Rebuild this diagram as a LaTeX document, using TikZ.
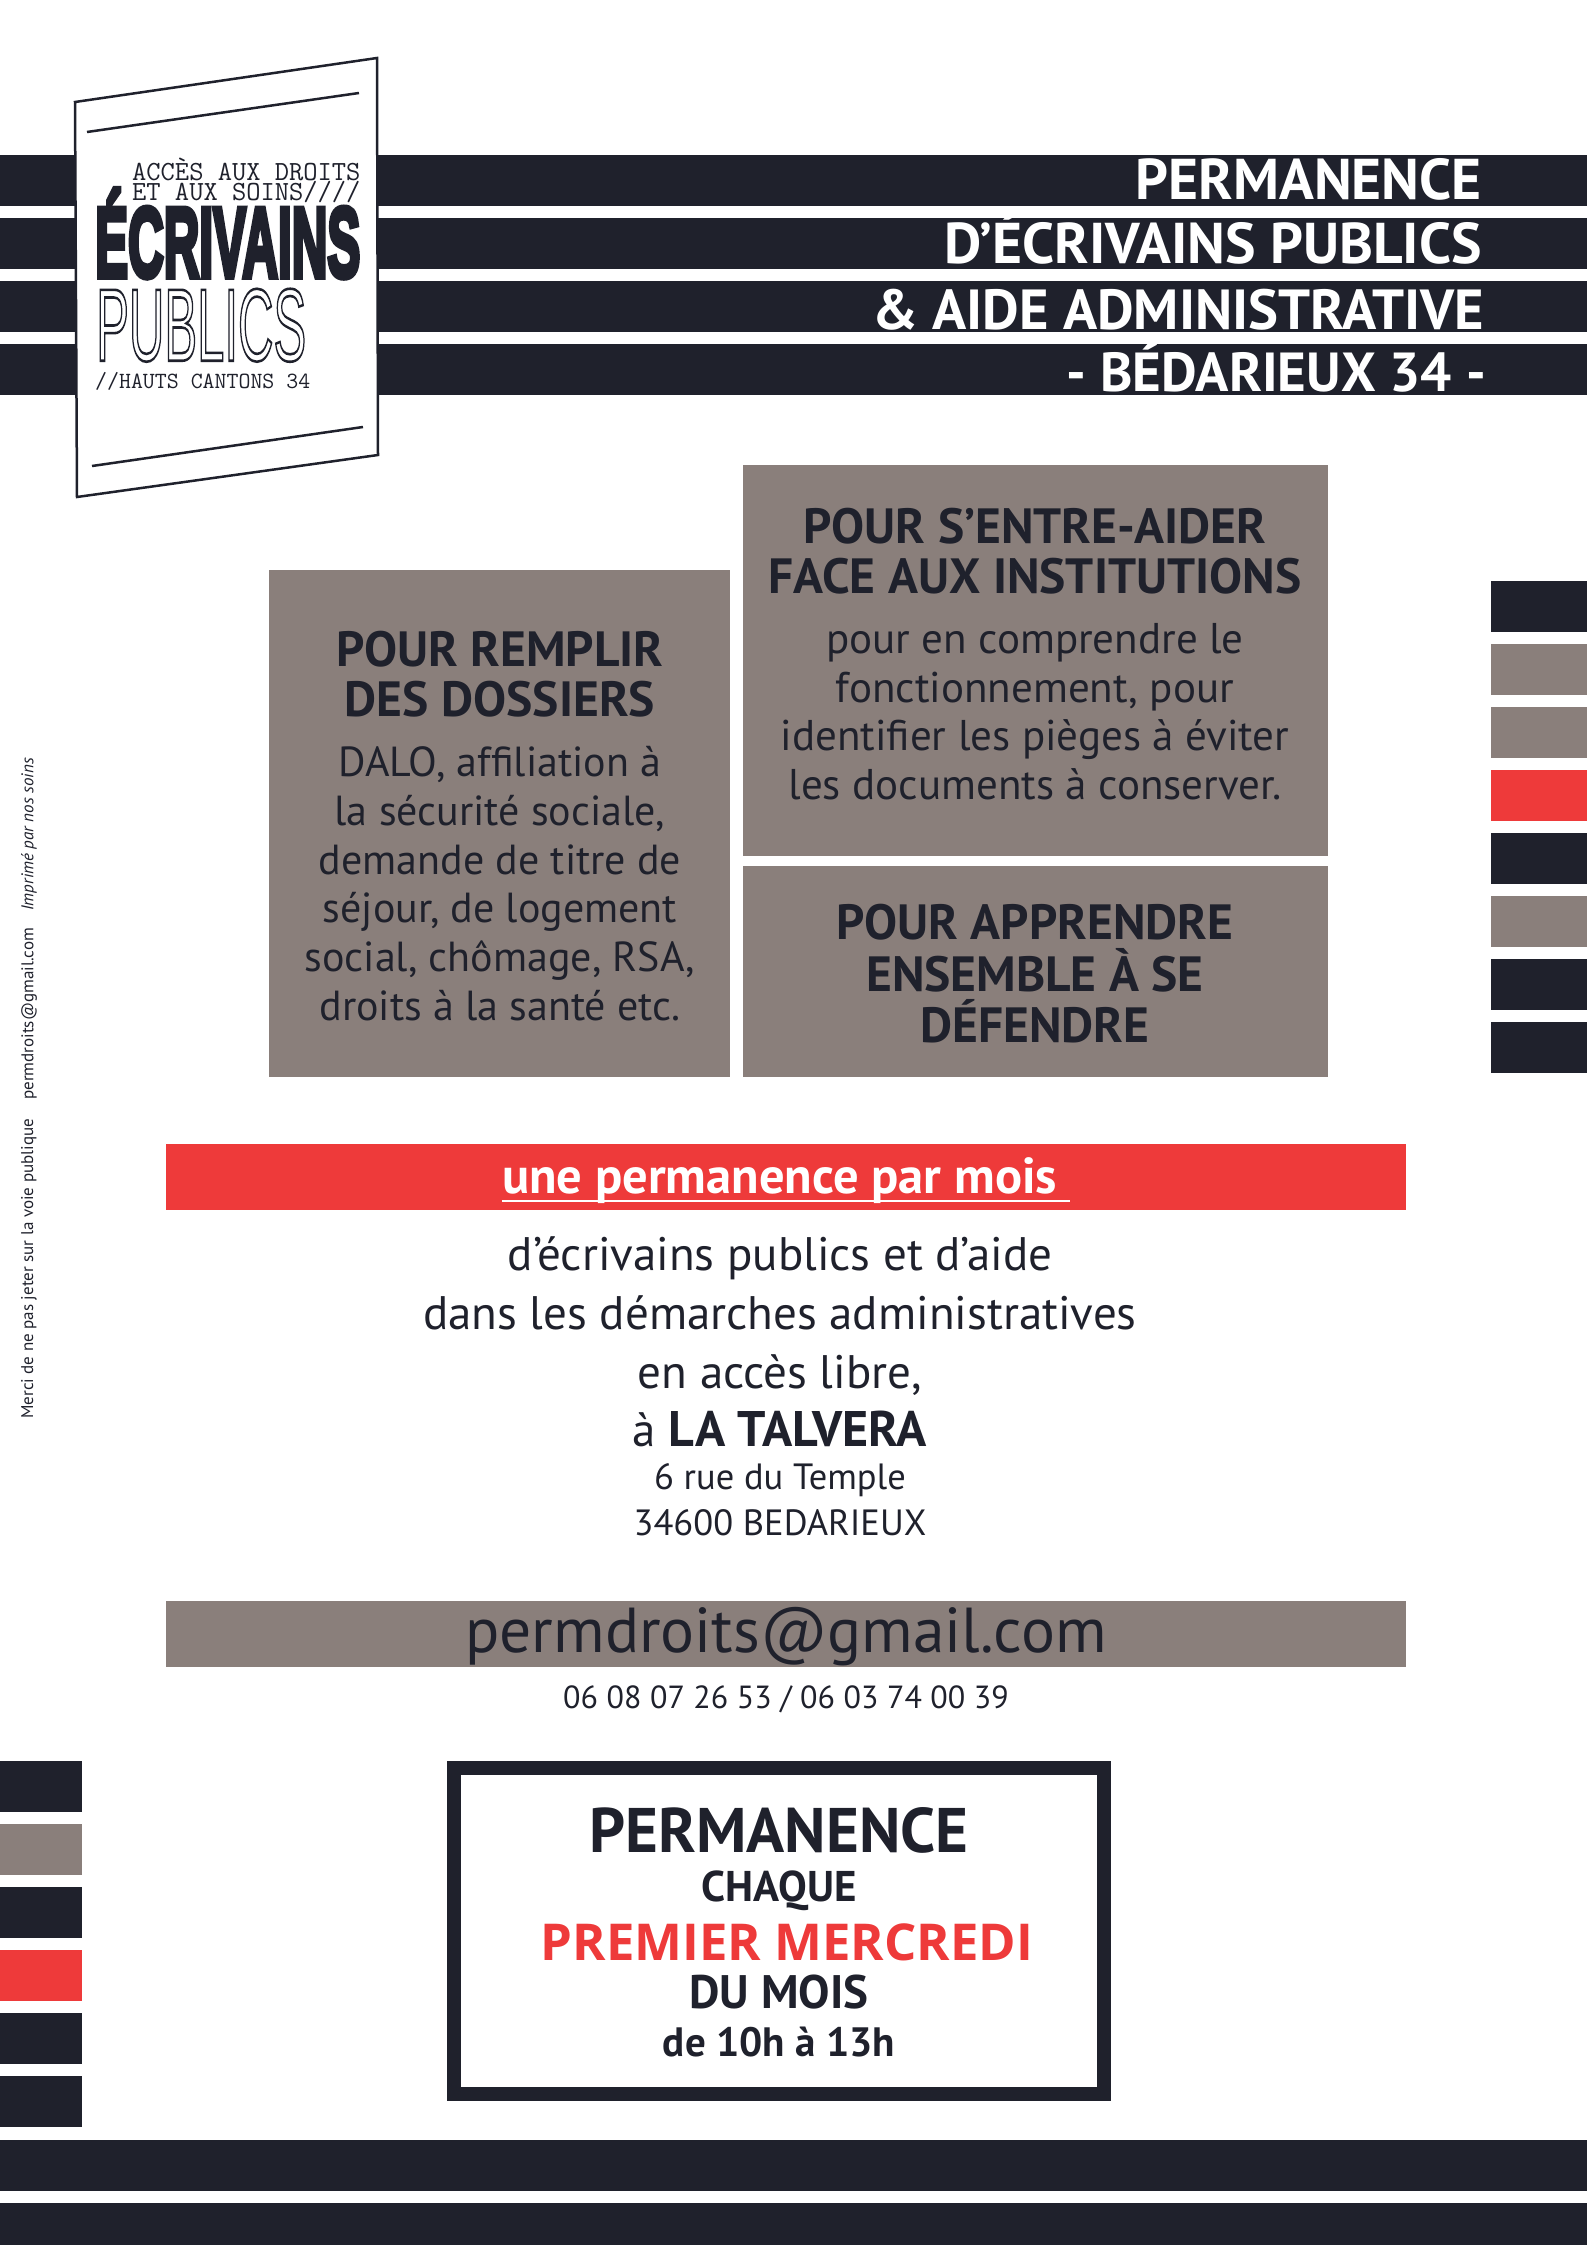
\documentclass[tikz,border=0pt]{standalone}
\usepackage{fontspec}
\usepackage{graphicx}
\usetikzlibrary{positioning}
\setmainfont{PT Sans}
\newfontfamily\redfont{Open Sans}
\newfontfamily\logofont[BoldFeatures={FakeBold=6}]{Liberation Sans}
\definecolor{navy}{HTML}{1F212C}
\definecolor{stone}{HTML}{8A7F7B}
\definecolor{alarm}{HTML}{EE3A3A}
\newcommand{\px}[1]{\fontsize{#1}{#1}\selectfont}
\tikzset{
  band/.style={fill=navy,minimum width=1587pt,minimum height=51pt,inner sep=0,outer sep=0,anchor=north west},
  strip/.style={fill=navy,minimum width=96pt,minimum height=51pt,inner sep=0,outer sep=0},
  stub/.style={strip,minimum width=82pt},
  slab/.style={fill=stone,inner sep=0,outer sep=0,anchor=north west},
  wide/.style={minimum width=1240pt,minimum height=66pt,inner sep=0,outer sep=0,anchor=north west},
  headline/.style={text=white,font=\px{57.5}\bfseries,anchor=base east,inner sep=0},
  boxtext/.style={text=navy,align=center,inner sep=0},
  typed/.style={text=navy,font=\ttfamily\px{27.7},anchor=west,inner sep=0}
}
\begin{document}
\begin{tikzpicture}[x=1pt,y=-1pt,node distance=12pt]
\useasboundingbox (0,0) rectangle (1587,2245);

\node[band] (h1) at (0,155){};
\node[band,below=12pt of h1.south west,anchor=north west] (h2){};
\node[band,below=12pt of h2.south west,anchor=north west] (h3){};
\node[band,below=12pt of h3.south west,anchor=north west] (h4){};
\node[headline] (t1) at (1482,200){PERMANENCE};
\node[headline] (t2) at (1482,263){D’ÉCRIVAINS PUBLICS};
\node[headline,font=\px{56.5}\bfseries] (t3) at (1484,329){\&\ AIDE ADMINISTRATIVE};
\node[headline,font=\px{55}\bfseries] (t4) at (1486,391){- BÉDARIEUX 34 -};

\coordinate (c1) at (75,102);
\coordinate (c2) at (377,58);
\coordinate (c3) at (378,455);
\coordinate (c4) at (77,497);
\draw[navy,line width=2.5pt,fill=white] (c1)--(c2)--(c3)--(c4)--cycle;
\coordinate (l1) at (87,132);
\coordinate (l2) at (359,93);
\coordinate (l3) at (92,466);
\coordinate (l4) at (363,427);
\draw[navy,line width=2.5pt] (l1)--(l2);
\draw[navy,line width=2.5pt] (l3)--(l4);
\node[typed] (logo1) at (132,169){ACCÈS AUX DROITS};
\node[typed] (logo2) at (132,192){ET AUX SOINS////};
\node[inner sep=0,anchor=south west,text=navy] (logo3) at (95,278){\resizebox{265pt}{88pt}{\logofont\bfseries ÉCRIVAINS}};
\node[inner sep=0,anchor=south west,text=navy] (logo4) at (96,362){\resizebox{210pt}{72pt}{\logofont\special{pdf:code 1 Tr .25 w}PUBLICS\special{pdf:code 0 Tr}}};
\node[typed,font=\ttfamily\px{23.2}] (logo5) at (95,381){//HAUTS CANTONS 34};

\node[slab,minimum width=461pt,minimum height=507pt] (box1) at (269,570){};
\node[slab,minimum width=585pt,minimum height=391pt] (box2) at (743,465){};
\node[slab,minimum width=585pt,minimum height=211pt] (box3) at (743,866){};

\node[boxtext,font=\px{49.5}\bfseries] (title1) at (500,674){POUR REMPLIR\\[.5pt]DES DOSSIERS};
\node[boxtext,font=\px{42},below=29pt of title1] (body1){DALO, affiliation à\\[6.7pt]la sécurité sociale,\\[6.7pt]demande de titre de\\[6.7pt]séjour, de logement\\[6.7pt]social, chômage, RSA,\\[6.7pt]droits à la santé etc.};
\node[boxtext,font=\px{49.5}\bfseries] (title2) at (1035,551){POUR S’ENTRE-AIDER\\[.5pt]FACE AUX INSTITUTIONS};
\node[boxtext,font=\px{43},below=29pt of title2] (body2){pour en comprendre le\\[5.7pt]fonctionnement, pour\\[5.7pt]identifier les pièges à éviter\\[5.7pt]les documents à conserver.};
\node[boxtext,font=\px{49.5}\bfseries] (title3) at (1035,974){POUR APPRENDRE\\[2pt]ENSEMBLE À SE\\[2pt]DÉFENDRE};

\node[strip] (r1) at (1539,606){};
\node[strip,fill=stone,below=of r1] (r2){};
\node[strip,fill=stone,below=of r2] (r3){};
\node[strip,fill=alarm,below=of r3] (r4){};
\node[strip,below=of r4] (r5){};
\node[strip,fill=stone,below=of r5] (r6){};
\node[strip,below=of r6] (r7){};
\node[strip,below=of r7] (r8){};

\node[wide,fill=alarm] (redbar) at (166,1144){};
\node[text=white,font=\px{50.5}\bfseries,inner sep=0,yshift=-4pt] (redtext) at (redbar){une permanence par mois\ \hspace{8pt}};
\draw[white,line width=2.5pt] ([yshift=3pt]redtext.south west)--([yshift=3pt]redtext.south east);
\node[boxtext,font=\px{47}] (info) at (780,1342){d’écrivains publics et d’aide\\[11.7pt]dans les démarches administratives\\[11.7pt]en accès libre,\\[11.7pt]à {\bfseries\fontsize{50}{47}\selectfont LA TALVERA}};
\node[boxtext,font=\px{36.5},below=16pt of info] (addr){6 rue du Temple\\[9.5pt]34600 BEDARIEUX};

\node[wide,fill=stone] (greybar) at (166,1601){};
\node[text=navy,font=\px{63.5},inner sep=0,yshift=-3pt] (mail) at (greybar){permdroits@gmail.com};
\node[text=navy,font=\px{32},inner sep=0,below=18pt of greybar] (phone){06 08 07 26 53 / 06 03 74 00 39};

\node[stub] (s1) at (41,1786){};
\node[stub,fill=stone,below=of s1] (s2){};
\node[stub,below=of s2] (s3){};
\node[stub,fill=alarm,below=of s3] (s4){};
\node[stub,below=of s4] (s5){};
\node[stub,below=of s5] (s6){};

\node[draw=navy,line width=14pt,minimum width=650pt,minimum height=326pt,inner sep=0] (frame) at (779,1931){};
\node[boxtext,font=\px{63}\bfseries] (f1) at (779,1830){PERMANENCE};
\node[boxtext,font=\px{43}\bfseries] (f2) at (779,1891){CHAQUE};
\node[text=alarm,font=\redfont\px{50.8}\bfseries,inner sep=0] (f3) at (787,1942){PREMIER MERCREDI};
\node[boxtext,font=\px{47}\bfseries] (f4) at (779,1992){DU MOIS};
\node[boxtext,font=\px{41}\bfseries] (f5) at (779,2042){de 10h à 13h};

\node[band] (b1) at (0,2140){};
\node[band,minimum height=42pt,below=12pt of b1.south west,anchor=north west] (b2){};

\node[rotate=90,text=navy,font=\px{17},inner sep=0,anchor=west] (m1) at (29,1419){Merci de ne pas jeter sur la voie publique};
\node[rotate=90,text=navy,font=\px{17},inner sep=0,anchor=west] (m2) at (29,1100){permdroits@gmail.com};
\node[rotate=90,text=navy,font=\px{17}\itshape,inner sep=0,anchor=west] (m3) at (29,911){Imprimé par nos soins};
\end{tikzpicture}
\end{document}
